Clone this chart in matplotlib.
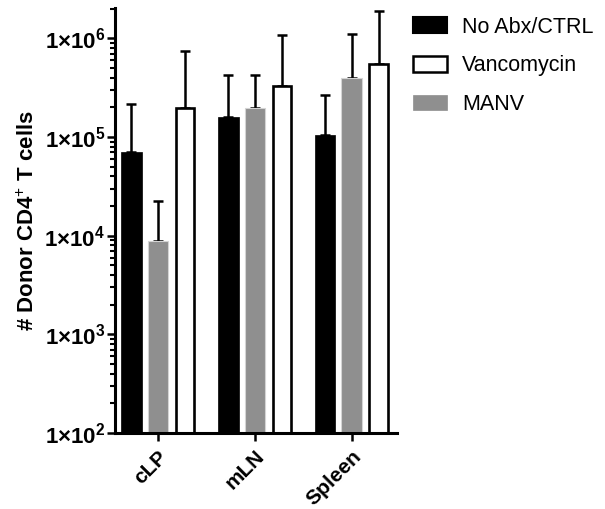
import matplotlib
matplotlib.use("Agg")
import matplotlib.pyplot as plt
import numpy as np
from matplotlib.ticker import FixedLocator, LogLocator, NullFormatter
from matplotlib.patches import Patch

plt.rcParams['font.family'] = ['Liberation Sans', 'DejaVu Sans']
plt.rcParams['mathtext.fontset'] = 'custom'
plt.rcParams['mathtext.rm'] = 'Liberation Sans'
plt.rcParams['mathtext.bf'] = 'Liberation Sans:bold'
plt.rcParams['mathtext.it'] = 'Liberation Sans:italic'

groups = ['cLP', 'mLN', 'Spleen']
series_names = ['No Abx/CTRL', 'Vancomycin', 'MANV']
ctrl = [7.1e4, 1.61e5, 1.05e5]
ctrl_top = [2.14e5, 4.22e5, 2.69e5]
manv = [8.9e3, 1.97e5, 3.99e5]
manv_top = [2.23e4, 4.27e5, 1.11e6]
vanco = [1.95e5, 3.31e5, 5.5e5]
vanco_top = [7.4e5, 1.08e6, 1.91e6]
ytick_vals = [1e2, 1e3, 1e4, 1e5, 1e6]
ytick_labels = [r'$\mathbf{1{\times}10^{2}}$', r'$\mathbf{1{\times}10^{3}}$',
                r'$\mathbf{1{\times}10^{4}}$', r'$\mathbf{1{\times}10^{5}}$',
                r'$\mathbf{1{\times}10^{6}}$']

fig = plt.figure(figsize=(6.05, 5.09), dpi=100)
ax = fig.add_axes([0.190, 0.1493, 0.466, 0.835])

x = np.arange(len(groups))
off = 0.277
w = 0.215
gray = '#8f8f8f'

def up_err(vals, tops):
    v = np.array(vals); t = np.array(tops)
    return [np.zeros_like(v), t - v]

ax.errorbar(x - off, ctrl, yerr=up_err(ctrl, ctrl_top), fmt='none', ecolor='black',
            elinewidth=1.8, capsize=3.6, capthick=1.8, zorder=1)
ax.errorbar(x, manv, yerr=up_err(manv, manv_top), fmt='none', ecolor='black',
            elinewidth=1.8, capsize=3.6, capthick=1.8, zorder=1)
ax.errorbar(x + off, vanco, yerr=up_err(vanco, vanco_top), fmt='none', ecolor='black',
            elinewidth=1.8, capsize=3.6, capthick=1.8, zorder=1)

ax.bar(x - off, ctrl, width=w, color='black', edgecolor='black', linewidth=0.5, zorder=2)
ax.bar(x, manv, width=w, color=gray, edgecolor='#d4d4d4', linewidth=0.8, zorder=2)
ax.bar(x + off, vanco, width=0.19, color='white', edgecolor='black', linewidth=1.9, zorder=2)

ax.set_yscale('log')
ax.set_ylim(1e2, 2.03e6)
ax.set_xlim(-0.445, 2.465)

ax.yaxis.set_major_locator(FixedLocator(ytick_vals))
ax.set_yticklabels(ytick_labels, fontsize=16)
ax.yaxis.set_minor_locator(LogLocator(base=10, subs=np.arange(2, 10), numticks=20))
ax.yaxis.set_minor_formatter(NullFormatter())

ax.set_xticks(x)
ax.set_xticklabels(groups, rotation=45, ha='right', rotation_mode='anchor',
                   fontsize=15, fontweight='bold')

for s in ['top', 'right']:
    ax.spines[s].set_visible(False)
for s in ['left', 'bottom']:
    ax.spines[s].set_linewidth(2.2)

ax.tick_params(axis='y', which='major', length=6, width=1.8, pad=1)
ax.tick_params(axis='y', which='minor', length=3.5, width=1.5)
ax.tick_params(axis='x', which='major', length=6, width=1.8, pad=4)

ax.set_ylabel('# Donor CD4$^{+}$ T cells', fontsize=16, fontweight='bold', labelpad=4)

handles = [Patch(facecolor='black', edgecolor='black', linewidth=1.5),
           Patch(facecolor='white', edgecolor='black', linewidth=1.8),
           Patch(facecolor=gray, edgecolor=gray, linewidth=0.5)]
fig.legend(handles, series_names, loc='upper left', bbox_to_anchor=(0.657, 0.997),
           frameon=False, fontsize=15.5, handlelength=1.6, handleheight=0.75,
           handletextpad=0.7, labelspacing=0.82, borderpad=0.2)

fig.savefig('out.png', dpi=100)
